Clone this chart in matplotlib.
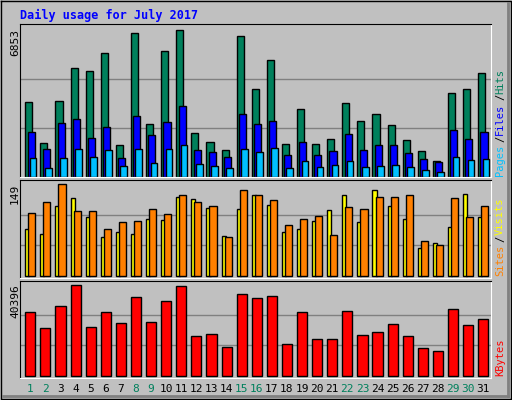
import matplotlib
matplotlib.use("Agg")
import matplotlib.pyplot as plt

days = list(range(1, 32))
hits = [3503,1597,3550,5084,4945,5782,1504,6712,2480,5875,6853,2062,1643,1271,6572,4108,5456,1550,3178,1550,1783,3457,2620,2945,2434,1736,1225,760,3922,4108,4852]
files = [2108,1318,2527,2713,1829,2341,899,2852,1969,2573,3317,1271,1178,946,2945,2480,2620,1039,1643,1039,1225,2015,1271,1504,1504,1132,853,713,2201,1783,2108]
pages = [899,434,899,1318,946,1271,527,1318,667,1318,1504,620,527,434,1318,1178,1364,434,760,481,574,760,481,527,574,481,341,248,946,806,853]
visits = [76,68,113,126,96,63,71,68,92,91,128,125,110,65,109,131,115,71,76,89,107,131,87,139,113,92,45,53,79,133,96]
sites = [102,121,149,105,105,76,87,89,109,100,131,120,113,63,139,131,123,83,92,97,66,112,109,128,128,131,57,50,126,96,113]
kbytes = [28450,21375,31100,40396,21820,28450,23590,35085,24030,33315,39950,17840,18720,12970,36410,34640,35525,14300,28450,16510,16510,28890,18280,19600,23140,17840,12530,11200,29775,22700,25350]
weekend = [1,2,8,9,15,16,22,23,29,30]

BG = "#C0C0C0"
mono = "DejaVu Sans Mono"
W, H = 512, 400
fig = plt.figure(figsize=(5.12, 4.0), dpi=100, facecolor=BG)

ov = fig.add_axes([0, 0, 1, 1]); ov.set_xlim(0, W); ov.set_ylim(H, 0); ov.axis("off")
ov.plot([1, W-1, W-1, 1, 1], [1, 1, H-1, H-1, 1], color="black", lw=1)
ov.plot([3, W-4], [H-4, H-4], color="#808080", lw=2)
ov.plot([W-4, W-4], [3, H-4], color="#808080", lw=2)

def ax_px(x0, y0, x1, y1):
    return fig.add_axes([x0/W, 1-y1/H, (x1-x0)/W, (y1-y0)/H])

xl = (0.65, 31.85)
ek = dict(edgecolor="black", linewidth=1, align="edge")

def style(ax, top, ylim):
    ax.set_facecolor(BG)
    ax.set_xlim(*xl); ax.set_ylim(*ylim)
    ax.set_xticks([]); ax.set_yticks([])
    for f in (1/3, 2/3):
        ax.axhline(top*f, color="#808080", lw=1, zorder=0)
    for s in ax.spines.values():
        s.set_color("black")
    ax.spines["right"].set_color("white"); ax.spines["bottom"].set_color("white")

a1 = ax_px(20, 24, 491, 177)
style(a1, 6853, (0, 7133))
a1.bar(days, hits, width=0.47, color="#00805C", **ek)
a1.bar([d+0.15 for d in days], files, width=0.47, color="#0000FF", **ek)
a1.bar([d+0.3 for d in days], pages, width=0.44, color="#00C0FF", **ek)

a2 = ax_px(20, 180, 491, 278)
style(a2, 149, (-3.2, 156))
a2.bar(days, visits, width=0.27, color="#FFFF00", **ek)
a2.bar([d+0.2 for d in days], sites, width=0.47, color="#FF8000", **ek)

a3 = ax_px(20, 281, 491, 378)
style(a3, 40396, (-1018, 42166))
a3.bar(days, kbytes, width=0.67, color="#FF0000", **ek)

fig.text(20/W, 1-15/H, "Daily usage for July 2017", color="#0000FF", fontsize=8.5,
         fontweight="bold", family=mono, va="center")
for y, t in [(29, "6853"), (184, "149"), (284, "40396")]:
    fig.text(15/W, 1-y/H, t, rotation=90, fontsize=8, family=mono, ha="center", va="top")

for d in days:
    x = (20 + (d + 0.33 - xl[0]) / (xl[1]-xl[0]) * 471) / W
    fig.text(x, 1-389/H, str(d), fontsize=8, family=mono, ha="center", va="center",
             color="#00805C" if d in weekend else "black")

FS = 7.5
STEP = FS * 0.602 * 100 / 72 + 0.6
def vlabel(x, ybot, parts):
    y = ybot
    for t, c in parts:
        fig.text(x/W, 1-y/H, t, rotation=90, fontsize=FS, family=mono, color=c,
                 ha="center", va="bottom")
        y -= len(t) * STEP
vlabel(500, 176, [("Pages", "#00C0FF"), ("/", "black"), ("Files", "#0000FF"), ("/", "black"), ("Hits", "#00805C")])
vlabel(500, 276, [("Sites", "#FF8000"), ("/", "black"), ("Visits", "#FFFF00")])
vlabel(500, 376, [("KBytes", "#FF0000")])

fig.savefig("out.png", dpi=100, facecolor=BG)
